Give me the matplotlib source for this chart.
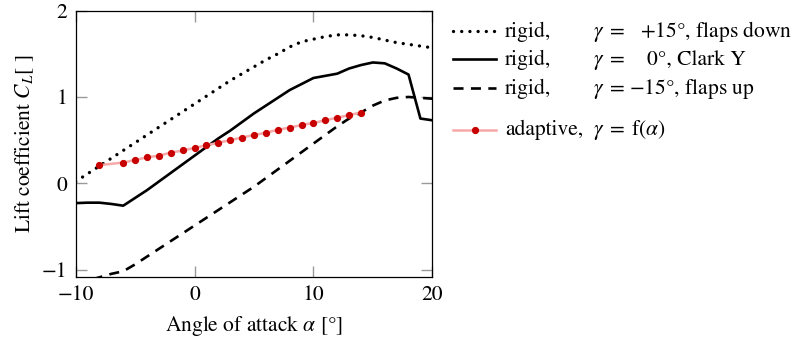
import matplotlib
matplotlib.use("Agg")
import matplotlib.pyplot as plt
from matplotlib.lines import Line2D
import numpy as np

plt.rcParams['font.family'] = ['STIXGeneral', 'DejaVu Serif']
plt.rcParams['mathtext.fontset'] = 'stix'

alpha = [-10, -9, -8, -7, -6, -5, -4, -3, -2, -1, 0, 1, 2, 3, 4, 5, 6, 7, 8, 9,
         10, 11, 12, 13, 14, 15, 16, 17, 18, 19, 20]
cl_flaps_down = [0.02, 0.11, 0.20, 0.29, 0.38, 0.47, 0.56, 0.65, 0.74, 0.83, 0.92,
                 1.01, 1.10, 1.19, 1.27, 1.35, 1.43, 1.50, 1.58, 1.64, 1.67, 1.70,
                 1.72, 1.72, 1.71, 1.69, 1.66, 1.63, 1.61, 1.59, 1.57]
cl_clark_y = [-0.23, -0.225, -0.225, -0.24, -0.26, -0.17, -0.08, 0.02, 0.12, 0.22,
              0.32, 0.42, 0.52, 0.61, 0.71, 0.81, 0.90, 0.99, 1.08, 1.15, 1.22,
              1.245, 1.27, 1.33, 1.37, 1.40, 1.39, 1.33, 1.26, 0.75, 0.73]
cl_flaps_up = [-1.16, -1.13, -1.09, -1.05, -1.02, -0.94, -0.85, -0.76, -0.67, -0.58,
               -0.49, -0.40, -0.31, -0.22, -0.13, -0.04, 0.06, 0.16, 0.26, 0.36,
               0.46, 0.56, 0.66, 0.75, 0.82, 0.90, 0.96, 0.99, 1.00, 0.99, 0.98]
alpha_adaptive = [-8, -6, -5, -4, -3, -2, -1, 0, 1, 2, 3, 4, 5, 6, 7, 8, 9, 10,
                  11, 12, 13, 14]
cl_adaptive = [0.21, 0.24, 0.27, 0.30, 0.32, 0.355, 0.38, 0.41, 0.44, 0.47, 0.50,
               0.53, 0.56, 0.585, 0.62, 0.645, 0.675, 0.70, 0.73, 0.76, 0.79, 0.82]

xticks = [-10, 0, 10, 20]
yticks = [-1, 0, 1, 2]

W, H = 797, 339
fig = plt.figure(figsize=(W / 100, H / 100), dpi=100)
ax = fig.add_axes([75.7 / W, 1 - 277.3 / H, (432.3 - 75.7) / W, (277.3 - 10.7) / H])

FS = 15.5
LW = 1.9
DOT_LW = 2.4
dot_style = (0, (0.01, 2.45))
dash_style = (0, (3.8, 2.8))
pink = '#f7a8a8'
red = '#c80000'

ax.plot(alpha, cl_flaps_down, color='black', lw=DOT_LW, linestyle=dot_style,
        dash_capstyle='round')
ax.plot(alpha, cl_clark_y, color='black', lw=LW, linestyle='-')
ax.plot(alpha, cl_flaps_up, color='black', lw=LW, linestyle=dash_style)
ax.plot(alpha_adaptive, cl_adaptive, color=pink, lw=1.8, marker='o',
        markersize=4.2, markerfacecolor=red, markeredgecolor=red)

ax.set_xlim(-10, 20)
ax.set_ylim(-1.09, 2.0)
ax.set_xticks(xticks)
ax.set_yticks(yticks)
ax.set_xticklabels(['\u2212' + str(abs(t)) if t < 0 else str(t) for t in xticks])
ax.set_yticklabels(['\u2212' + str(abs(t)) if t < 0 else str(t) for t in yticks])
ax.tick_params(direction='in', length=8, width=1.0, color='#999999',
               top=True, right=True, labelsize=FS, pad=6)
for s in ax.spines.values():
    s.set_linewidth(0.9)
ax.set_xlabel(r'Angle of attack $\alpha$ [°]', fontsize=FS, labelpad=6)
ax.set_ylabel(r'Lift coefficient $C_L$[ ]', fontsize=FS, labelpad=4)

# legend (drawn manually for column alignment)
def fx(px):
    return px / W

def fy(py):
    return 1 - py / H

rows = [
    (31.0, dict(color='black', lw=DOT_LW, linestyle=dot_style, dash_capstyle='round'),
     None, 'rigid,', [(640, r'$+15°$, flaps down')]),
    (59.3, dict(color='black', lw=LW, linestyle='-'), None,
     'rigid,', [(647, r'0°, Clark Y')]),
    (88.3, dict(color='black', lw=LW, linestyle=dash_style), None,
     'rigid,', [(629, r'$-15°$, flaps up')]),
    (130.0, dict(color=pink, lw=1.8, linestyle='-'), True,
     'adaptive,', []),
]
for y, style, has_marker, lab, rest in rows:
    fig.add_artist(Line2D([fx(453), fx(496)], [fy(y), fy(y)],
                          transform=fig.transFigure, **style))
    if has_marker:
        fig.add_artist(Line2D([fx(475)], [fy(y)], transform=fig.transFigure,
                              marker='o', markersize=4.2, color=red, lw=0))
    yb = fy(y + 5.5)
    fig.text(fx(505), yb, lab, fontsize=FS, va='baseline', ha='left')
    if lab == 'adaptive,':
        fig.text(fx(593), yb, r'$\gamma\;=\;\mathrm{f}(\alpha)$', fontsize=FS,
                 va='baseline', ha='left')
    else:
        fig.text(fx(593), yb, r'$\gamma\;=$', fontsize=FS, va='baseline', ha='left')
    for xx, t in rest:
        fig.text(fx(xx), yb, t, fontsize=FS, va='baseline', ha='left')

fig.savefig('out.png', dpi=100)
